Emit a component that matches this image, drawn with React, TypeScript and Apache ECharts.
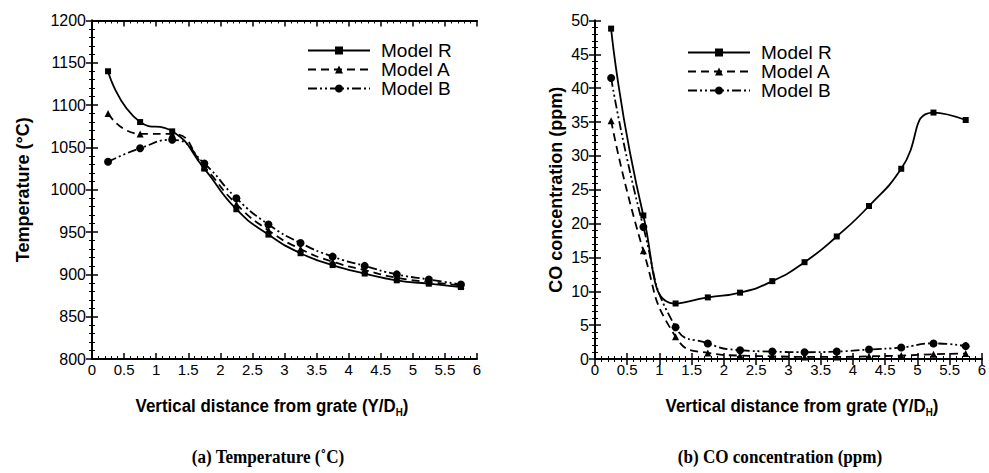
import React, { useEffect, useRef } from "react";
import * as echarts from "echarts";

const xVals = [0.25, 0.75, 1.25, 1.75, 2.25, 2.75, 3.25, 3.75, 4.25, 4.75, 5.25, 5.75];
const tempR = [1140, 1080, 1069, 1025, 977, 947, 925, 911, 901, 893, 889, 885];
const tempA = [1090, 1066, 1066, 1027, 983, 952, 930, 915, 905, 896, 891, 887];
const tempB = [1033, 1049, 1059, 1031, 990, 959, 937, 921, 910, 900, 894, 888];
const coR = [48.8, 21.2, 8.2, 9.1, 9.8, 11.5, 14.3, 18.1, 22.6, 28.1, 36.4, 35.3];
const coA = [35.2, 16.0, 3.3, 0.9, 0.5, 0.4, 0.3, 0.3, 0.4, 0.5, 0.7, 0.8];
const coB = [41.5, 19.5, 4.7, 2.3, 1.3, 1.1, 1.0, 1.1, 1.4, 1.7, 2.3, 1.9];
const seriesNames = ["Model R", "Model A", "Model B"];
const xTitle = "Vertical distance from grate (Y/D{sub|H})";
const yTitleLeft = "Temperature (°C)";
const yTitleRight = "CO concentration (ppm)";
const captionLeft = "(a) Temperature (˚C)";
const captionRight = "(b) CO concentration (ppm)";

const pair = (ys: number[]) => xVals.map((x, i) => [x, ys[i]]);

const SANS = "'Liberation Sans', Arial, sans-serif";
const SERIF = "'Liberation Serif', 'Times New Roman', serif";

const styles = [
  { symbol: "rect", symbolSize: 6, type: "solid" as any },
  { symbol: "triangle", symbolSize: 7, type: [8, 5] as any },
  { symbol: "circle", symbolSize: 8, type: [9, 3, 2, 3, 2, 3] as any },
];

function makeSeries(data: number[][], idx: number, axisIndex: number) {
  const s = styles[idx];
  return {
    type: "line",
    name: seriesNames[idx],
    xAxisIndex: axisIndex,
    yAxisIndex: axisIndex,
    data,
    smooth: 0.55,
    symbol: s.symbol,
    symbolSize: s.symbolSize,
    showSymbol: true,
    itemStyle: { color: "#000" },
    lineStyle: { color: "#000", width: 1.8, type: s.type },
    z: 3 - idx,
  };
}

const axisLine = { show: true, lineStyle: { color: "#000", width: 2 } };
const tick = { show: true, inside: true, length: 6, lineStyle: { color: "#000", width: 1.5 } };
const minor = { show: true, splitNumber: 5, length: 3, lineStyle: { color: "#000", width: 1 } };

function xAxes(gridIndex: number) {
  return [
    {
      type: "value",
      gridIndex,
      min: 0,
      max: 6,
      interval: 0.5,
      position: "bottom",
      axisLine,
      axisTick: tick,
      minorTick: minor,
      splitLine: { show: false },
      axisLabel: { fontFamily: SANS, fontSize: 15, color: "#000", margin: 3 },
    },
    {
      type: "value",
      gridIndex,
      min: 0,
      max: 6,
      interval: 0.5,
      position: "top",
      axisLine,
      axisTick: tick,
      minorTick: minor,
      splitLine: { show: false },
      axisLabel: { show: false },
    },
  ];
}

function yAxes(gridIndex: number, min: number, max: number, interval: number, title: string, gap: number) {
  return [
    {
      type: "value",
      gridIndex,
      min,
      max,
      interval,
      position: "left",
      axisLine,
      axisTick: tick,
      minorTick: minor,
      splitLine: { show: false },
      axisLabel: { fontFamily: SANS, fontSize: 16, color: "#000", margin: 6, formatter: (v: number) => String(v) },
      name: title,
      nameLocation: "middle",
      nameRotate: 90,
      nameGap: gap,
      nameTextStyle: { fontFamily: SANS, fontWeight: "bold", fontSize: 18, color: "#000" },
    },
    {
      type: "value",
      gridIndex,
      min,
      max,
      interval,
      position: "right",
      axisLine,
      axisTick: tick,
      minorTick: minor,
      splitLine: { show: false },
      axisLabel: { show: false },
    },
  ];
}

const legendBase = {
  orient: "vertical",
  itemWidth: 62,
  itemHeight: 10,
  itemGap: 0,
  textStyle: { fontFamily: SANS, fontSize: 19, color: "#000", lineHeight: 19, padding: [0, 0, 0, 6] },
  data: seriesNames,
  selectedMode: false,
};

function xTitleGraphic(cx: number) {
  return {
    type: "text",
    x: cx,
    y: 406,
    scaleX: 0.89,
    style: {
      text: xTitle,
      align: "center",
      verticalAlign: "middle",
      fontFamily: SANS,
      fontWeight: "bold",
      fontSize: 19,
      lineHeight: 24,
      fill: "#000",
      rich: {
        sub: { fontFamily: SANS, fontWeight: "bold", fontSize: 11, lineHeight: 24, verticalAlign: "bottom", fill: "#000" },
      },
    },
  };
}

function captionGraphic(cx: number, text: string) {
  return {
    type: "text",
    x: cx,
    y: 457,
    scaleX: 0.9,
    style: {
      text,
      align: "center",
      verticalAlign: "middle",
      fontFamily: SERIF,
      fontWeight: "bold",
      fontSize: 19,
      fill: "#000",
    },
  };
}

export default function App() {
  const ref = useRef<HTMLDivElement>(null);
  useEffect(() => {
    const chart = echarts.init(ref.current!, null, { renderer: "svg" });
    const xa = [...xAxes(0), ...xAxes(1)];
    const ya = [...yAxes(0, 800, 1200, 50, yTitleLeft, 60), ...yAxes(1, 0, 50, 5, yTitleRight, 30)];
    const series = [
      makeSeries(pair(tempR), 0, 0),
      makeSeries(pair(tempA), 1, 0),
      makeSeries(pair(tempB), 2, 0),
      makeSeries(pair(coR), 0, 2),
      makeSeries(pair(coA), 1, 2),
      makeSeries(pair(coB), 2, 2),
    ];
    chart.setOption({
      animation: false,
      backgroundColor: "#fff",
      grid: [
        { left: 92, top: 20.5, width: 385, height: 338.5, show: false },
        { left: 595, top: 20.5, width: 388, height: 338.5, show: false },
      ],
      xAxis: xa,
      yAxis: ya,
      legend: [
        { ...legendBase, left: 302, top: 36 },
        { ...legendBase, left: 682, top: 38 },
      ],
      series,
      graphic: [
        xTitleGraphic(272),
        xTitleGraphic(802),
        captionGraphic(268, captionLeft),
        captionGraphic(780, captionRight),
      ],
    });
    return () => chart.dispose();
  }, []);
  return (
    <div
      ref={ref}
      style={{ position: "fixed", left: 0, top: 0, width: 989, height: 473, background: "#fff" }}
    />
  );
}
